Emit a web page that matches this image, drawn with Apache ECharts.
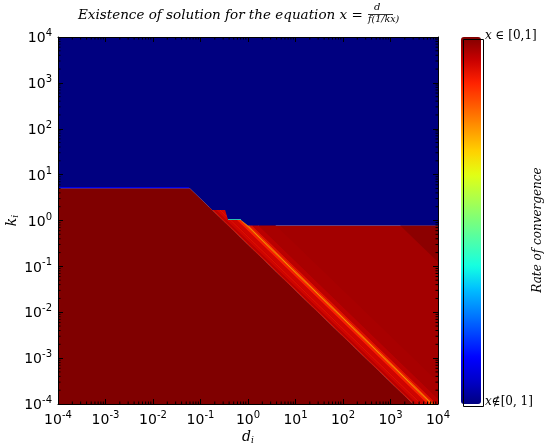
<!DOCTYPE html>
<html>
<head>
<meta charset="utf-8">
<script src="https://cdn.jsdelivr.net/npm/echarts@6/dist/echarts.min.js"></script>
<style>
  html, body { margin: 0; padding: 0; background: #fff; }
  #main { width: 550px; height: 443px; }
</style>
</head>
<body>
<div id="main"></div>
<script>
// regions of the (d, k) plane, vertices
var blueRegion = [[1e-4, 1e4], [1e4, 1e4], [1e4, 0.78], [1.0, 0.78], [0.71, 1.03], [0.38, 1.03], [0.33, 1.7], [0.176, 1.7], [0.06, 5], [1e-4, 5]]
var blueEdge = [[1e-4, 5], [0.06, 5], [0.056, 5.4], [1e-4, 5.4]]
var stepEdge = [[0.38, 1.03], [0.71, 1.03], [0.71, 1.07], [0.38, 1.07]]
var darkRedRegion = [[1e-4, 1e-4], [1e-4, 5], [0.06, 5], [3000, 1e-4]]
var rightRegion = [[0.176, 1.7], [0.33, 1.7], [0.38, 1.03], [0.71, 1.03], [1.0, 0.78], [1e4, 0.78], [1e4, 1e-4], [3000, 1e-4]]
var cornerRegion = [[1600, 0.78], [1e4, 0.78], [1e4, 0.125]]

// rate of convergence in each region
var rates = { blue: 0, blueEdge: 0.1, stepEdge: 0.42, darkRed: 1, right: 0.97, corner: 0.99 }

// bands along lines of constant k*d, right of the dark region
var bandKd = [0.3, 0.32, 0.36, 0.42, 0.46, 0.6, 0.68, 0.72, 0.78, 0.84, 0.95, 1.3, 3]
var bandRate = [0.9, 0.95, 0.93, 0.91, 0.93, 0.88, 0.83, 0.76, 0.85, 0.91, 0.95, 0.965]

// minor tick positions inside each decade
var minorMant = [2, 3, 4, 5, 6, 7, 8, 9]
var decades = [1e-4, 1e-3, 1e-2, 1e-1, 1, 1e1, 1e2, 1e3]

var jet = ['#000080', '#0000c8', '#0000ff', '#0040ff', '#0080ff', '#00bfff', '#14ffe2', '#48ffaf',
  '#7bff7b', '#afff48', '#e2ff14', '#ffd200', '#ff9700', '#ff5c00', '#ff2100', '#c80000', '#800000']

// polygons in paint order
var polys = []
var polyRates = []
function addPoly (pts, r) { polys.push(pts); polyRates.push(r) }
addPoly(rightRegion, rates.right)
for (var i = 0; i < bandRate.length; i++) {
  var c1 = bandKd[i], c2 = bandKd[i + 1]
  addPoly([[c1 / 2, 2], [c2 / 2, 2], [c2 / 1e-4, 1e-4], [c1 / 1e-4, 1e-4]], bandRate[i])
}
addPoly(cornerRegion, rates.corner)
addPoly(blueRegion, rates.blue)
addPoly(blueEdge, rates.blueEdge)
addPoly(stepEdge, rates.stepEdge)
addPoly(darkRedRegion, rates.darkRed)

var minorTicks = []
decades.forEach(function (d) {
  minorMant.forEach(function (m) { minorTicks.push([m * d, 1]) })
})

var myChart = echarts.init(document.getElementById('main'))

function powLabel (v) {
  var e = Math.round(Math.log10(v))
  return '{b|10}{s|' + e + '}'
}
var tickRich = {
  b: { fontSize: 14, fontFamily: 'DejaVu Sans', color: '#000', verticalAlign: 'bottom' },
  s: { fontSize: 10, fontFamily: 'DejaVu Sans', color: '#000', verticalAlign: 'bottom', padding: [0, 0, 7, 0] }
}
var serif = 'DejaVu Serif'
var nameRich = {
  a: { fontSize: 14, fontFamily: serif, fontStyle: 'italic', color: '#000' },
  i: { fontSize: 9, fontFamily: serif, fontStyle: 'italic', color: '#000', padding: [6, 0, 0, 0] }
}

function logAxis (pos, show) {
  return {
    type: 'log',
    logBase: 10,
    min: 1e-4,
    max: 1e4,
    position: pos,
    z: 5,
    axisLine: { show: true, onZero: false, lineStyle: { color: '#000', width: 1 } },
    axisTick: { show: true, inside: true, length: 5, lineStyle: { color: '#000' } },
    splitLine: { show: false },
    axisLabel: show ? { show: true, margin: 6, formatter: powLabel, rich: tickRich } : { show: false }
  }
}

var xMain = logAxis('bottom', true)
xMain.name = '{a|d}{i|i}'
xMain.nameLocation = 'middle'
xMain.nameGap = 26
xMain.nameMoveOverlap = false
xMain.nameTextStyle = { rich: nameRich }
var yMain = logAxis('left', true)
yMain.name = '{a|k}{i|i}'
yMain.nameLocation = 'middle'
yMain.nameGap = 38
yMain.nameMoveOverlap = false
yMain.nameTextStyle = { rich: nameRich }

var option = {
  animation: false,
  grid: { left: 58, top: 37, width: 380, height: 367, outerBoundsMode: 'none', containLabel: false },
  xAxis: [xMain, logAxis('top', false)],
  yAxis: [yMain, logAxis('right', false)],
  visualMap: {
    type: 'continuous',
    seriesIndex: 0,
    dimension: 2,
    min: 0,
    max: 1,
    calculable: false,
    orient: 'vertical',
    left: 461,
    top: 37,
    padding: 0,
    itemWidth: 20,
    itemHeight: 367,
    inRange: { color: jet },
    textStyle: { color: 'transparent' }
  },
  graphic: [
    { type: 'rect', left: 461, top: 37, z: 10, shape: { width: 20, height: 367 }, style: { fill: null, stroke: '#000', lineWidth: 1 } },
    { type: 'text', left: 78, top: 8, style: { text: 'Existence of solution for the equation x =', font: 'italic 13.5px ' + serif, fill: '#000' } },
    { type: 'text', left: 374, top: 2, style: { text: 'd', font: 'italic 10px ' + serif, fill: '#000' } },
    { type: 'rect', left: 368, top: 14, shape: { width: 25, height: 0.8 }, style: { fill: '#000' } },
    { type: 'text', left: 368, top: 15, style: { text: 'f(1/kx)', font: 'italic 9.5px ' + serif, fill: '#000' } },
    { type: 'text', left: 485, top: 30, style: { rich: { i: { font: 'italic 12px ' + serif } }, text: '{i|x} ∈ [0,1]', font: '12px ' + serif, fill: '#000' } },
    { type: 'text', left: 485, top: 396, style: { rich: { i: { font: 'italic 12px ' + serif } }, text: '{i|x}∉[0, 1]', font: '12px ' + serif, fill: '#000' } },
    { type: 'text', x: 538, y: 230, rotation: Math.PI / 2, style: { text: 'Rate of convergence', font: 'italic 12px ' + serif, fill: '#000', align: 'center', verticalAlign: 'middle' } }
  ],
  series: [{
    type: 'custom',
    clip: true,
    z: 1,
    silent: true,
    data: polyRates.map(function (r) { return [1, 1, r] }),
    renderItem: function (params, api) {
      var pts = polys[params.dataIndex].map(function (p) { return api.coord(p) })
      return { type: 'polygon', shape: { points: pts }, style: { fill: api.visual('color') } }
    }
  }, {
    // minor ticks on all four sides
    type: 'custom',
    z: 6,
    silent: true,
    data: minorTicks,
    renderItem: function (params, api) {
      var v = minorTicks[params.dataIndex][0]
      var b = api.coord([v, 1e-4]), t = api.coord([v, 1e4])
      var l = api.coord([1e-4, v]), r = api.coord([1e4, v])
      var st = { stroke: '#000', lineWidth: 1 }
      var len = 2.5
      return { type: 'group', children: [
        { type: 'line', shape: { x1: b[0], y1: b[1], x2: b[0], y2: b[1] - len }, style: st },
        { type: 'line', shape: { x1: t[0], y1: t[1], x2: t[0], y2: t[1] + len }, style: st },
        { type: 'line', shape: { x1: l[0], y1: l[1], x2: l[0] + len, y2: l[1] }, style: st },
        { type: 'line', shape: { x1: r[0], y1: r[1], x2: r[0] - len, y2: r[1] }, style: st }
      ] }
    }
  }]
}
myChart.setOption(option)
</script>
</body>
</html>
